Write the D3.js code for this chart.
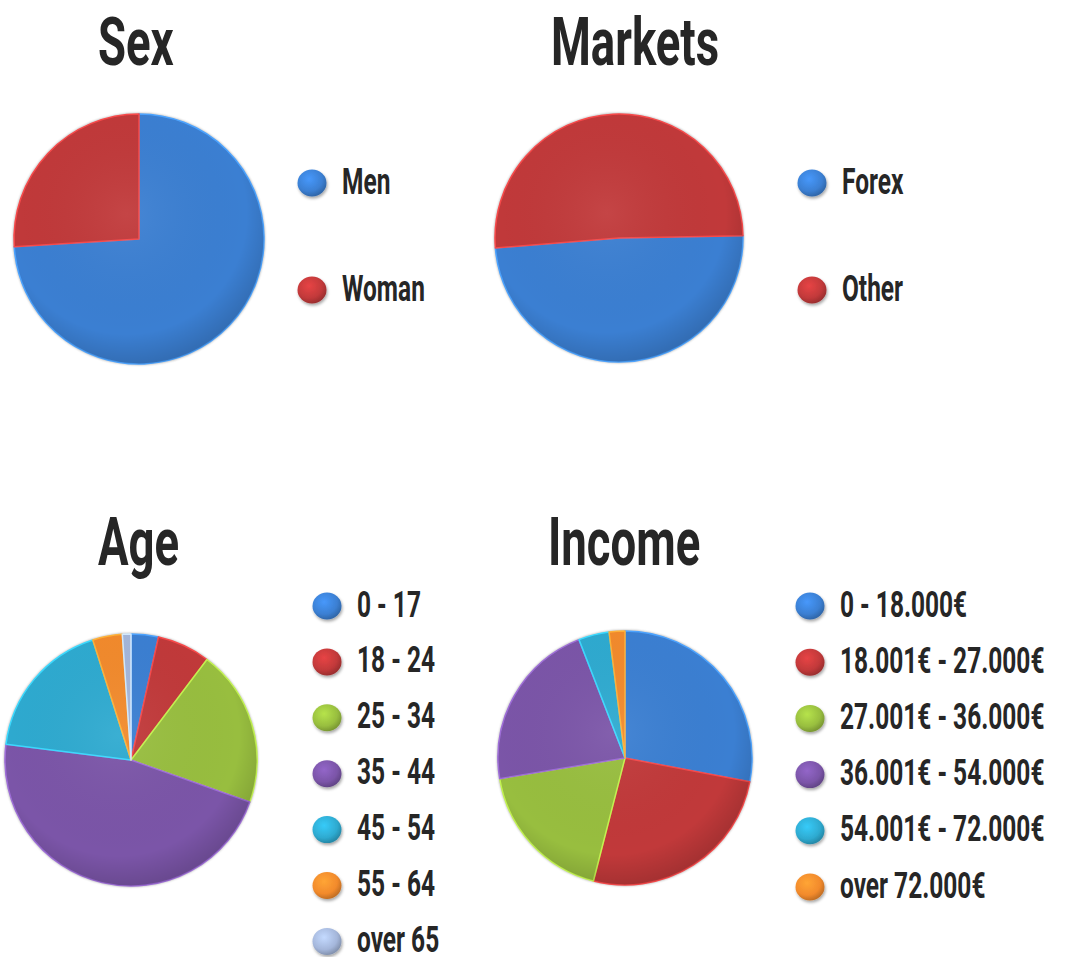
<html>
<head>
<meta charset="utf-8">
<script src="https://cdnjs.cloudflare.com/ajax/libs/d3/7.8.5/d3.min.js"></script>
<style>
  body { margin: 0; background: #fff; }
  text { font-family: Roboto, "Liberation Sans", sans-serif; font-weight: 700; fill: #262626; }
</style>
</head>
<body>
<svg width="1072" height="957"></svg>
<script>
// values (percent)
const sexLabels = ["Men", "Woman"];
const sexValues = [74, 26];

const marketLabels = ["Forex", "Other"];
const marketValues = [49, 51];

const ageLabels = ["0 - 17", "18 - 24", "25 - 34", "35 - 44", "45 - 54", "55 - 64", "over 65"];
const ageValues = [3.5, 6.8, 20.1, 46.6, 18.1, 3.8, 1.1];

const incomeLabels = ["0 - 18.000€", "18.001€ - 27.000€", "27.001€ - 36.000€",
                      "36.001€ - 54.000€", "54.001€ - 72.000€", "over 72.000€"];
const incomeValues = [28, 26, 18.4, 21.7, 3.9, 2.0];

const palette = ["#3b7fd2", "#c1393a", "#98be3f", "#7b55a8", "#2eaad0", "#f28a2c", "#a4b6da"];

const svg = d3.select("svg");
const defs = svg.append("defs");

// soft shadow for the legend balls
const sh = defs.append("filter").attr("id", "shadow")
    .attr("x", "-50%").attr("y", "-50%").attr("width", "200%").attr("height", "200%");
sh.append("feDropShadow").attr("dx", 1).attr("dy", 2).attr("stdDeviation", 1.5)
    .attr("flood-color", "#000").attr("flood-opacity", 0.35);

const blur = defs.append("filter").attr("id", "edge")
    .attr("x", "-10%").attr("y", "-10%").attr("width", "120%").attr("height", "120%");
blur.append("feGaussianBlur").attr("stdDeviation", 1.2);

// shading over each pie
const shade = defs.append("radialGradient").attr("id", "pieShade")
    .attr("cx", "45%").attr("cy", "40%").attr("r", "60%");
shade.append("stop").attr("offset", "0%").attr("stop-color", "#fff").attr("stop-opacity", 0.06);
shade.append("stop").attr("offset", "80%").attr("stop-color", "#000").attr("stop-opacity", 0.0);
shade.append("stop").attr("offset", "100%").attr("stop-color", "#000").attr("stop-opacity", 0.14);

palette.forEach((c, i) => {
    const g = defs.append("radialGradient").attr("id", "ball" + i)
        .attr("cx", "40%").attr("cy", "35%").attr("r", "65%");
    g.append("stop").attr("offset", "0%").attr("stop-color", d3.color(c).brighter(0.5));
    g.append("stop").attr("offset", "70%").attr("stop-color", c);
    g.append("stop").attr("offset", "100%").attr("stop-color", d3.color(c).darker(0.6));
});

const condensed = (sel, x, y, size, sx, txt) => {
    sel.append("g")
       .attr("transform", `translate(${x}, ${y}) scale(${sx}, 1)`)
       .append("text")
       .attr("font-size", size)
       .text(txt);
};

const panels = [
    {title: "Sex", labels: sexLabels, values: sexValues, start: 0,
     cx: 139, cy: 239, r: 125, tx: 98, ty: 65, lx: 312, ly: 183, step: 107},
    {title: "Markets", labels: marketLabels, values: marketValues, start: 89,
     cx: 619, cy: 238, r: 124, tx: 551, ty: 65, lx: 812, ly: 183, step: 107},
    {title: "Age", labels: ageLabels, values: ageValues, start: 0,
     cx: 131, cy: 760, r: 126, tx: 98, ty: 565, lx: 327, ly: 606, step: 55.9},
    {title: "Income", labels: incomeLabels, values: incomeValues, start: 0,
     cx: 625, cy: 758, r: 127, tx: 548, ty: 565, lx: 810, ly: 606, step: 56.2}
];

panels.forEach(p => {
    const root = svg.append("g");

    condensed(root, p.tx, p.ty, 66, 0.69, p.title);

    const a0 = p.start * Math.PI / 180;
    const pie = d3.pie().sort(null).startAngle(a0).endAngle(a0 + 2 * Math.PI);
    const arc = d3.arc().innerRadius(0).outerRadius(p.r);
    const arcs = pie(p.values);

    const chart = root.append("g").attr("transform", `translate(${p.cx}, ${p.cy})`);

    chart.append("circle").attr("r", p.r + 1)
        .attr("fill", "#555").attr("opacity", 0.45).attr("filter", "url(#edge)");

    chart.selectAll(".slice")
        .data(arcs)
        .join("path")
        .attr("class", "slice")
        .attr("d", arc)
        .attr("fill", (d, i) => palette[i])
        .attr("stroke", (d, i) => d3.color(palette[i]).brighter(0.7))
        .attr("stroke-width", 1.5)
        .attr("stroke-linejoin", "round");

    chart.append("circle").attr("r", p.r).attr("fill", "url(#pieShade)");

    const rows = root.selectAll(".row")
        .data(p.labels)
        .join("g")
        .attr("class", "row")
        .attr("transform", (d, i) => `translate(${p.lx}, ${p.ly + i * p.step})`);

    rows.append("ellipse")
        .attr("rx", 14.5).attr("ry", 13.5)
        .attr("fill", (d, i) => `url(#ball${i})`)
        .attr("filter", "url(#shadow)");

    rows.each(function(d) {
        condensed(d3.select(this), 30, 10.5, 36, 0.68, d);
    });
});
</script>
</body>
</html>
